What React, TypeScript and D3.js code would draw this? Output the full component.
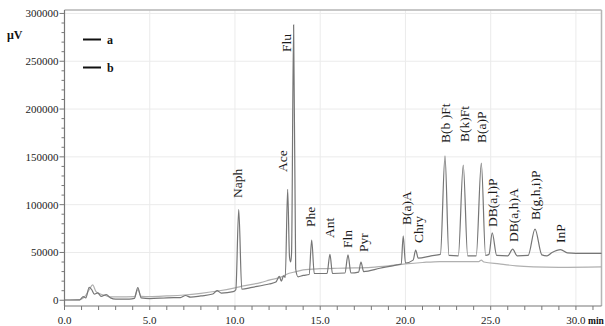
import React from "react";
import * as d3 from "d3";

const W = 605;
const H = 326;

// Series a (sample trace with peaks): retention time (min), signal (µV)
const aTime = [0.0, 0.9, 1.1, 1.25, 1.45, 1.6, 1.75, 1.95, 2.15, 2.45, 2.7, 3.0, 3.8, 4.1, 4.3, 4.5, 5.0, 6.0, 6.8, 7.1, 7.4, 8.0, 8.7, 8.95, 9.2, 9.9, 10.05, 10.22, 10.4, 11.0, 12.0, 12.4, 12.6, 12.72, 12.85, 12.95, 13.09, 13.2, 13.27, 13.32, 13.44, 13.56, 13.7, 14.0, 14.35, 14.5, 14.65, 15.4, 15.57, 15.72, 16.45, 16.63, 16.8, 17.25, 17.39, 17.55, 18.5, 19.5, 19.75, 19.87, 20.0, 20.45, 20.6, 20.75, 21.5, 22.05, 22.32, 22.55, 23.1, 23.39, 23.65, 24.15, 24.45, 24.7, 24.9, 25.09, 25.35, 26.0, 26.29, 26.55, 27.2, 27.6, 28.0, 28.3, 28.6, 29.1, 29.5, 30.0, 31.5];
const aValue = [300, 500, 3800, 2500, 13600, 11000, 6500, 7800, 4000, 5800, 2500, 1200, 1200, 2000, 13200, 2500, 1800, 2600, 2800, 5000, 3200, 4500, 6500, 10000, 7500, 9000, 11000, 95000, 11500, 13500, 17000, 19000, 25000, 20000, 25500, 24000, 116000, 45000, 40000, 50000, 288000, 33000, 24500, 26000, 27000, 63000, 28000, 28000, 48000, 28000, 28500, 47500, 28500, 29500, 40000, 30000, 33500, 37000, 38000, 67500, 39000, 42000, 52500, 44000, 46500, 48000, 151000, 47000, 46500, 141500, 46500, 46500, 143500, 47000, 48000, 70500, 47000, 46500, 53500, 46500, 47000, 74500, 47500, 46500, 50000, 53000, 49500, 49000, 49000];

// Series b (blank / baseline trace)
const bTime = [0.0, 0.9, 1.2, 1.45, 1.65, 1.85, 2.1, 2.4, 2.7, 3.5, 4.1, 4.3, 4.5, 5.0, 6.0, 7.0, 8.0, 9.0, 10.0, 10.5, 11.5, 12.0, 12.8, 13.0, 13.6, 14.0, 15.0, 16.0, 17.0, 18.0, 19.0, 20.0, 21.0, 22.0, 23.5, 24.3, 24.45, 24.6, 25.5, 26.5, 27.5, 29.0, 31.5];
const bValue = [300, 500, 4000, 11000, 16000, 9000, 6500, 5000, 3500, 3600, 3800, 11000, 4000, 3800, 4500, 5500, 7300, 9700, 13000, 15000, 18500, 21000, 25000, 27000, 30000, 31700, 33000, 33500, 33800, 34500, 36000, 38000, 39500, 40500, 40500, 40500, 42000, 40000, 38000, 36000, 35000, 34500, 35000];

// Peak labels
const peakNames = ["Naph", "Ace", "Flu", "Phe", "Ant", "Fln", "Pyr", "B(a)A", "Chry", "B(b )Ft", "B(k)Ft", "B(a)P", "DB(a,l)P", "DB(a,h)A", "B(g,h,i)P", "InP"];
const peakLabelTime = [10.12, 12.8, 12.99, 14.4, 15.53, 16.61, 17.53, 20.03, 20.75, 22.32, 23.45, 24.47, 25.11, 26.32, 27.61, 29.06];
const peakLabelValue = [107000, 134200, 259700, 76700, 65200, 54700, 50500, 78800, 59900, 164500, 165600, 164500, 76700, 61000, 84000, 59900];

const yTicks = [0, 50000, 100000, 150000, 200000, 250000, 300000];
const xTicks = [0, 5, 10, 15, 20, 25, 30];
const xTickLabels = ["0.0", "5.0", "10.0", "15.0", "20.0", "25.0", "30.0"];
const legendNames = ["a", "b"];

const serif = "'Liberation Serif', 'Times New Roman', serif";

export default function App() {
  const x = d3.scaleLinear().domain([0, 31.5]).range([64.5, 601.5]);
  const y = d3.scaleLinear().domain([-6000, 303600]).range([306, 10]);
  const line = d3
    .line<[number, number]>()
    .x((d) => x(d[0]))
    .y((d) => y(d[1]))
    .curve(d3.curveMonotoneX);

  const aData: [number, number][] = aTime.map((t, i) => [t, aValue[i]]);
  const bData: [number, number][] = bTime.map((t, i) => [t, bValue[i]]);

  const yMinor = d3.range(0, 300001, 10000);
  const xMinor = d3.range(0, 32, 1);

  const left = x(0);
  const right = x(31.5);
  const top = y(303600);
  const bottom = y(-6000);

  return (
    <svg
      width={W}
      height={H}
      style={{ position: "absolute", left: 0, top: 0, background: "#fff" }}
      fontFamily={serif}
    >
      <rect x={0} y={0} width={W} height={H} fill="#fff" />
      {/* grid */}
      {yTicks.slice(1).map((v) => (
        <line key={"gy" + v} x1={left} x2={right} y1={y(v)} y2={y(v)} stroke="#ebebeb" strokeWidth={1} />
      ))}
      {xTicks.slice(1).map((t) => (
        <line key={"gx" + t} x1={x(t)} x2={x(t)} y1={top} y2={bottom} stroke="#ebebeb" strokeWidth={1} />
      ))}
      {/* frame */}
      <line x1={left} x2={right} y1={top} y2={top} stroke="#b5b5b5" strokeWidth={1.5} />
      <line x1={right} x2={right} y1={top} y2={bottom} stroke="#b5b5b5" strokeWidth={1.5} />

      {/* traces */}
      <path d={line(bData) || ""} fill="none" stroke="#b0b0b0" strokeWidth={1.2} />
      <path d={line(aData) || ""} fill="none" stroke="#767676" strokeWidth={1.2} />

      {/* axes */}
      <line x1={left} x2={left} y1={top} y2={bottom} stroke="#777" strokeWidth={1.2} />
      <line x1={left} x2={right} y1={bottom} y2={bottom} stroke="#777" strokeWidth={1.2} />
      {yMinor.map((v) => (
        <line key={"ym" + v} x1={left - (v % 50000 === 0 ? 5 : 3)} x2={left} y1={y(v)} y2={y(v)} stroke="#777" strokeWidth={1} />
      ))}
      {xMinor.map((t) => (
        <line key={"xm" + t} x1={x(t)} x2={x(t)} y1={bottom} y2={bottom + 4} stroke="#777" strokeWidth={1} />
      ))}
      {yTicks.map((v) => (
        <text key={"yl" + v} x={left - 6} y={y(v)} dy="0.35em" textAnchor="end" fontSize={11} fill="#222">
          {v}
        </text>
      ))}
      {xTicks.map((t, i) => (
        <text key={"xl" + t} x={x(t)} y={324} textAnchor="middle" fontSize={11} fill="#222">
          {xTickLabels[i]}
        </text>
      ))}
      <text x={588} y={324} fontSize={9.5} fontWeight="bold" fill="#111">min</text>
      <text x={7} y={39} fontSize={12} fontWeight="bold" fill="#111">μV</text>

      {/* legend */}
      {legendNames.map((n, i) => (
        <g key={n}>
          <line x1={83} x2={101} y1={39.5 + i * 28} y2={39.5 + i * 28} stroke="#111" strokeWidth={2} />
          <text x={107} y={44 + i * 28} fontSize={12} fontWeight="bold" fill="#111">{n}</text>
        </g>
      ))}

      {/* peak labels */}
      {peakNames.map((n, i) => {
        const px = x(peakLabelTime[i]);
        const py = y(peakLabelValue[i]);
        return (
          <text
            key={n}
            transform={`translate(${px},${py}) rotate(-90)`}
            dy="0.35em"
            fontSize={13.5}
            fill="#1a1a1a"
          >
            {n}
          </text>
        );
      })}
    </svg>
  );
}
